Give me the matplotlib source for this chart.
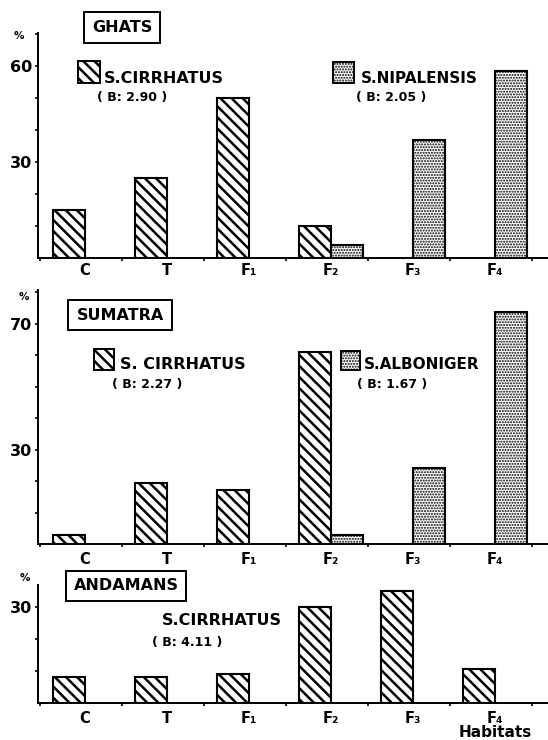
"""Habitat distribution of Spizaetus species in three regions."""

import matplotlib
matplotlib.use("Agg")
import matplotlib.pyplot as plt
from matplotlib.patches import Rectangle

W, H = 548, 740

CATEGORIES = ["C", "T", "F₁", "F₂", "F₃", "F₄"]

GHATS_CIRRHATUS = [15, 25, 50, 10, 0, 0]
GHATS_NIPALENSIS = [0, 0, 0, 4, 37, 58.5]
GHATS_YLABELS = [30, 60]

SUMATRA_CIRRHATUS = [3, 19.5, 17, 61, 0, 0]
SUMATRA_ALBONIGER = [0, 0, 0, 3, 24, 73.5]
SUMATRA_YLABELS = [30, 70]

ANDAMANS_CIRRHATUS = [8, 8, 9, 30, 35, 10.5]
ANDAMANS_YLABELS = [30]

HATCH_LINES = "\\\\\\"
HATCH_DOTS = "......"
LINE_HATCH_W = 1.8
DOT_HATCH_W = 1.0
BAR_W = 32 / 82
BOLD = dict(fontweight="bold", family="DejaVu Sans")


def fx(x):
    return x / W


def fy(y):
    return 1 - y / H


def hatched(artists, lw):
    for a in artists:
        if hasattr(a, "set_hatch_linewidth"):
            a.set_hatch_linewidth(lw)


def make_panel(fig, top_px, base_px, ymax, ylabels, left_vals, right_vals, title, title_xy, pct_xy, pad):
    ax = fig.add_axes([fx(38), fy(base_px), 1 - fx(38), (base_px - top_px) / H])
    idx = range(len(CATEGORIES))
    xl = [i for i in idx if left_vals[i] > 0]
    with plt.rc_context({"hatch.linewidth": LINE_HATCH_W}):
        bars = ax.bar(xl, [left_vals[i] for i in xl], width=-BAR_W, align="edge",
                      color="white", edgecolor="black", linewidth=1.5, hatch=HATCH_LINES)
    hatched(bars, LINE_HATCH_W)
    if right_vals is not None:
        xr = [i for i in idx if right_vals[i] > 0]
        with plt.rc_context({"hatch.linewidth": DOT_HATCH_W}):
            bars = ax.bar(xr, [right_vals[i] for i in xr], width=BAR_W, align="edge",
                          color="white", edgecolor="black", linewidth=1.5, hatch=HATCH_DOTS)
        hatched(bars, DOT_HATCH_W)

    ax.set_xlim((38 - 85) / 82, (548 - 85) / 82)
    ax.set_ylim(0, ymax)
    for s in ("top", "right"):
        ax.spines[s].set_visible(False)
    for s in ("left", "bottom"):
        ax.spines[s].set_linewidth(1.4)

    ax.set_xticks(list(idx))
    ax.set_xticklabels(CATEGORIES, fontsize=10.5, **BOLD)
    ax.set_xticks([i + 0.45 for i in range(-1, len(CATEGORIES))], minor=True)
    ax.tick_params(axis="x", which="major", length=0, pad=pad)
    ax.tick_params(axis="x", which="minor", length=2.5, width=1.2, direction="out")

    yt = list(range(10, int(ymax) + 1, 10))
    ax.set_yticks(yt)
    ax.set_yticklabels([str(v) if v in ylabels else "" for v in yt], fontsize=11.5, **BOLD)
    ax.tick_params(axis="y", length=2.5, width=1.2, pad=1.5)

    fig.text(fx(title_xy[0]), fy(title_xy[1]), title, ha="center", va="center",
             fontsize=11.5, **BOLD,
             bbox=dict(boxstyle="square,pad=0.5", facecolor="white", edgecolor="black", linewidth=1.4))
    fig.text(fx(pct_xy[0]), fy(pct_xy[1]), "%", ha="center", va="center", fontsize=7.5, **BOLD)
    return ax


def legend_square(fig, x0, y0, x1, y1, hatch, hlw):
    with plt.rc_context({"hatch.linewidth": hlw}):
        r = Rectangle((fx(x0), fy(y1)), fx(x1) - fx(x0), fy(y0) - fy(y1),
                      transform=fig.transFigure, facecolor="white",
                      edgecolor="black", linewidth=1.4, hatch=hatch)
    hatched([r], hlw)
    fig.add_artist(r)


def label(fig, x, y, s, size):
    fig.text(fx(x), fy(y), s, ha="left", va="baseline", fontsize=size, **BOLD)


fig = plt.figure(figsize=(W / 100, H / 100), dpi=100)

make_panel(fig, 33, 258, 225 / 3.2, GHATS_YLABELS, GHATS_CIRRHATUS, GHATS_NIPALENSIS,
           "GHATS", (122, 27.5), (19, 36), 3.5)
make_panel(fig, 290, 544, 254 / 3.15, SUMATRA_YLABELS, SUMATRA_CIRRHATUS, SUMATRA_ALBONIGER,
           "SUMATRA", (120, 315), (24, 297), 5.5)
make_panel(fig, 585, 703, 118 / 3.2, ANDAMANS_YLABELS, ANDAMANS_CIRRHATUS, None,
           "ANDAMANS", (126, 586), (25, 578), 5.5)

# legends
legend_square(fig, 78, 61, 100, 83, HATCH_LINES, LINE_HATCH_W)
label(fig, 104, 83, "S.CIRRHATUS", 11.5)
label(fig, 97, 101, "( B: 2.90 )", 9)
legend_square(fig, 333, 62, 354, 83, HATCH_DOTS, DOT_HATCH_W)
label(fig, 361, 83, "S.NIPALENSIS", 11)
label(fig, 356, 101, "( B: 2.05 )", 9)

legend_square(fig, 94, 349, 114, 370, HATCH_LINES, LINE_HATCH_W)
label(fig, 120, 369, "S. CIRRHATUS", 11.5)
label(fig, 112, 388, "( B: 2.27 )", 9)
legend_square(fig, 341, 351, 360, 370, HATCH_DOTS, DOT_HATCH_W)
label(fig, 364, 369, "S.ALBONIGER", 11)
label(fig, 357, 388, "( B: 1.67 )", 9)

label(fig, 162, 625, "S.CIRRHATUS", 11.5)
label(fig, 152, 646, "( B: 4.11 )", 9)

fig.text(fx(495), fy(737), "Habitats", ha="center", va="baseline", fontsize=11, **BOLD)

fig.savefig("out.png", dpi=100)
